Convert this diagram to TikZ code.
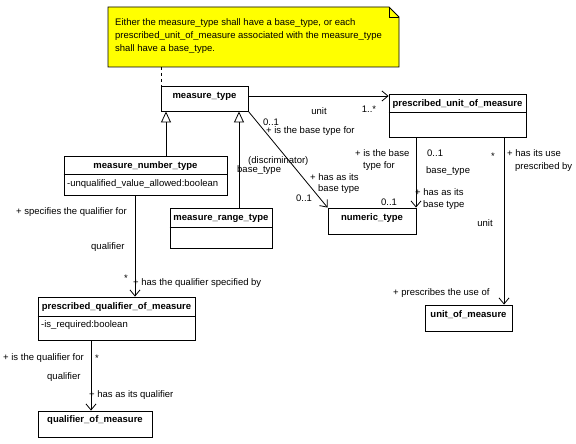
\documentclass[tikz,border=0pt]{standalone}
\usepackage{fontspec}
\setmainfont{Liberation Sans}
\usetikzlibrary{arrows.meta}
\definecolor{noteyellow}{RGB}{255,255,0}
\begin{document}
\begin{tikzpicture}[x=1pt,y=-1pt,
  every node/.style={font=\fontsize{9.5}{11}\selectfont, inner sep=0pt},
  box/.style={draw, line width=0.9pt, inner sep=0pt, fill=white},
  title/.style={font=\fontsize{9.5}{11}\selectfont\bfseries},
  lab/.style={anchor=west},
  conn/.style={line width=0.8pt},
  assoc/.style={conn, -{Straight Barb[length=6pt,width=10pt,line width=0.8pt]}},
  gen/.style={conn, -{Triangle[open,length=11pt,width=10pt,line width=0.8pt]}},
  divider/.style={line width=0.6pt}
]
\useasboundingbox (0,0) rectangle (576,444);
\fill[white] (0,0) rectangle (576,444);

% note
\draw[line width=0.9pt, fill=noteyellow] (108,7) -- (389,7) -- (399,17) -- (399,67) -- (108,67) -- cycle;
\draw[line width=0.6pt] (389,7) -- (389,17) -- (399,17);
\coordinate (note) at (161,67);
\node[lab] (notetext) at (115,23) {Either the measure\_type shall have a base\_type, or each};
\node[lab] (notetext2) at (115,36) {prescribed\_unit\_of\_measure associated with the measure\_type};
\node[lab] (notetext3) at (115,49) {shall have a base\_type.};

% classes
\node[box, minimum width=87pt, minimum height=25pt] (mt) at (204.5,98.5) {};
\node[title] (mtt) at (204.5,96) {measure\_type};

\node[box, minimum width=137pt, minimum height=43pt] (pum) at (457.5,115.5) {};
\node[title] (pumt) at (457.5,104) {prescribed\_unit\_of\_measure};
\draw[divider] (pum.west |- 0,112) -- (pum.east |- 0,112);

\node[box, minimum width=88pt, minimum height=26pt] (nt) at (372,221) {};
\node[title] (ntt) at (372,218) {numeric\_type};

\node[box, minimum width=87pt, minimum height=26pt] (uom) at (468.5,318) {};
\node[title] (uomt) at (468.5,315) {unit\_of\_measure};

\node[box, minimum width=163pt, minimum height=39pt] (mnt) at (145.5,175.5) {};
\node[title] (mntt) at (145.5,166) {measure\_number\_type};
\draw[divider] (mnt.west |- 0,174) -- (mnt.east |- 0,174);
\node[lab] (mnta) at (67,184) {-unqualified\_value\_allowed:boolean};

\node[box, minimum width=102pt, minimum height=40pt] (mrt) at (221,228) {};
\node[title] (mrtt) at (221,218) {measure\_range\_type};
\draw[divider] (mrt.west |- 0,227) -- (mrt.east |- 0,227);

\node[box, minimum width=157pt, minimum height=43pt] (pqm) at (116.5,318.5) {};
\node[title] (pqmt) at (116.5,307) {prescribed\_qualifier\_of\_measure};
\draw[divider] (pqm.west |- 0,316) -- (pqm.east |- 0,316);
\node[lab] (pqma) at (41,325) {-is\_required:boolean};

\node[box, minimum width=114pt, minimum height=26pt] (qom) at (95,424) {};
\node[title] (qomt) at (95,420) {qualifier\_of\_measure};

% connectors
\draw[conn, dashed, dash pattern=on 3pt off 3pt] (note) -- (mt.north -| note);
\draw[assoc] (mt.east |- 0,96) -- (pum.west |- 0,96);
\draw[gen] (mnt.north -| 166,0) -- (mt.south -| 166,0);
\draw[gen] (mrt.north -| 239,0) -- (mt.south -| 239,0);
\draw[assoc] (mt.south east) -- (nt.north west);
\draw[assoc] (pum.south -| 416,0) -- (nt.north -| 416,0);
\draw[assoc] (pum.south -| 504,0) -- (uom.north -| 504,0);
\draw[assoc] (mnt.south -| 135,0) -- (pqm.north -| 135,0);
\draw[assoc] (pqm.south -| 91,0) -- (qom.north -| 91,0);

% labels
\node (l1) at (319,111) {unit};
\node (l2) at (369,109) {1..*};
\node (l3) at (271,122) {0..1};
\node[lab] (l4) at (266,131) {+ is the base type for};
\node[lab] (l5) at (248,161) {(discriminator)};
\node[lab] (l6) at (237,170) {base\_type};
\node[lab] (l7) at (310,177) {+ has as its};
\node[lab] (l8) at (318,189) {base type};
\node (l9) at (304,198) {0..1};
\node (l10) at (389,202) {0..1};
\node[lab] (l11) at (355,153) {+ is the base};
\node[lab] (l12) at (363,166) {type for};
\node[lab] (l13) at (427,153) {0..1};
\node[lab] (l14) at (426,171) {base\_type};
\node[lab] (l15) at (415,192) {+ has as its};
\node[lab] (l16) at (423,205) {base type};
\node (l17) at (493,156) {*};
\node[lab] (l18) at (507,153) {+ has its use};
\node[lab] (l19) at (515,167) {prescribed by};
\node (l20) at (485,223) {unit};
\node[lab] (l21) at (393,293) {+ prescribes the use of};
\node[lab] (l22) at (16,212) {+ specifies the qualifier for};
\node[lab] (l23) at (91,247) {qualifier};
\node (l24) at (126,278) {*};
\node[lab] (l25) at (133,283) {+ has the qualifier specified by};
\node[lab] (l26) at (3,358) {+ is the qualifier for};
\node (l27) at (97,358) {*};
\node[lab] (l28) at (47,377) {qualifier};
\node[lab] (l29) at (89,395) {+ has as its qualifier};
\end{tikzpicture}
\end{document}
